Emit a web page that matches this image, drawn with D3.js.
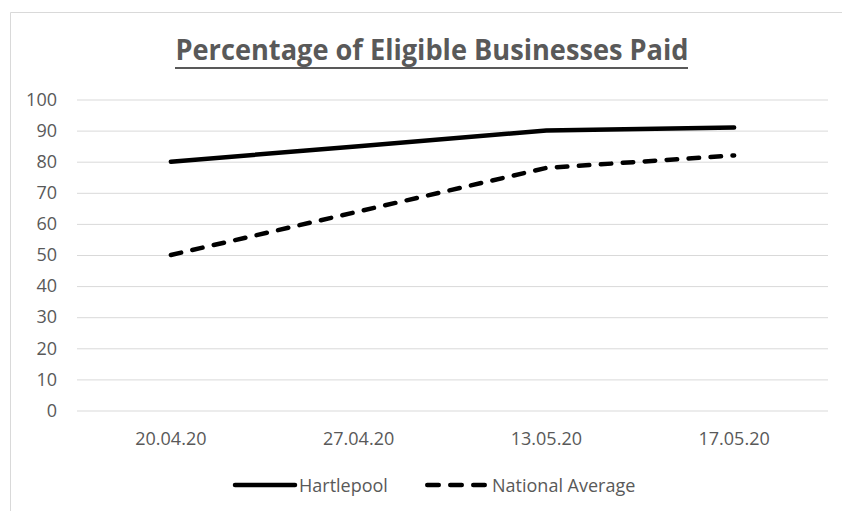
<!DOCTYPE html>
<html><head><meta charset="utf-8">
<script src="https://cdn.jsdelivr.net/npm/d3@7"></script>
<style>body{margin:0;background:#fff}svg{display:block}text{font-family:"Open Sans",sans-serif}</style>
</head><body><svg id="c" width="842" height="511"></svg>
<script>
const categories = ["20.04.20","27.04.20","13.05.20","17.05.20"];
const hartlepool = [80, 85, 90, 91];
const nationalAverage = [50, 64, 78, 82];
const yTicks = [0,10,20,30,40,50,60,70,80,90,100];
const seriesNames = ["Hartlepool","National Average"];

const svg = d3.select("#c");
const grey = "#595959";
const fs = 18;
// chart border
svg.append("path").attr("d","M10.5,511 V12.5 H842").attr("fill","none").attr("stroke","#d9d9d9").attr("stroke-width",1);

const x = d3.scaleBand().domain(categories).range([77,828]);
const y = d3.scaleLinear().domain([0,100]).range([410.5,99.5]);

// title
svg.append("text").attr("x",432).attr("y",60).attr("text-anchor","middle")
  .attr("font-size",28).attr("font-weight","bold").attr("fill",grey)
  .attr("textLength",513).attr("lengthAdjust","spacingAndGlyphs")
  .text("Percentage of Eligible Businesses Paid");
svg.append("line").attr("x1",175).attr("x2",688).attr("y1",68).attr("y2",68).attr("stroke",grey).attr("stroke-width",2);

// grid
const yAxis = d3.axisLeft(y).tickValues(yTicks).tickSize(-(828-77)).tickPadding(20);
const ga = svg.append("g").attr("transform","translate(77,0)").call(yAxis);
ga.select(".domain").remove();
ga.selectAll(".tick line").attr("stroke","#d9d9d9").attr("stroke-width",1);
ga.selectAll(".tick text").attr("font-size",fs).attr("fill",grey).attr("font-family","Open Sans").attr("x",-20);

const xAxis = d3.axisBottom(x).tickSize(0).tickPadding(0);
const gx = svg.append("g").attr("transform","translate(0,444.5)").call(xAxis);
gx.select(".domain").remove();
gx.selectAll(".tick text").attr("font-size",fs).attr("fill",grey).attr("font-family","Open Sans").attr("dy","0").attr("y",0);

const line = d3.line().x((d,i)=>x(categories[i])+x.bandwidth()/2).y(d=>y(d)).curve(d3.curveLinear);

svg.append("path").datum(hartlepool).attr("d",line).attr("fill","none").attr("stroke","#000")
  .attr("stroke-width",4.5).attr("stroke-linecap","round").attr("stroke-linejoin","round");
svg.append("path").datum(nationalAverage).attr("d",line).attr("fill","none").attr("stroke","#000")
  .attr("stroke-width",4.5).attr("stroke-linecap","round").attr("stroke-linejoin","round").attr("stroke-dasharray","10.5,11.5");

// legend
const lg = svg.append("g");
lg.append("line").attr("x1",235).attr("x2",295).attr("y1",485).attr("y2",485).attr("stroke","#000").attr("stroke-width",4.5).attr("stroke-linecap","round");
lg.append("text").attr("x",299).attr("y",491.5).attr("font-size",fs).attr("fill",grey).text(seriesNames[0]);
lg.append("line").attr("x1",427.25).attr("x2",484.75).attr("y1",485).attr("y2",485).attr("stroke","#000").attr("stroke-width",4.5).attr("stroke-linecap","round").attr("stroke-dasharray","11.5,11.5");
lg.append("text").attr("x",492).attr("y",491.5).attr("font-size",fs).attr("fill",grey).text(seriesNames[1]);
</script></body></html>
